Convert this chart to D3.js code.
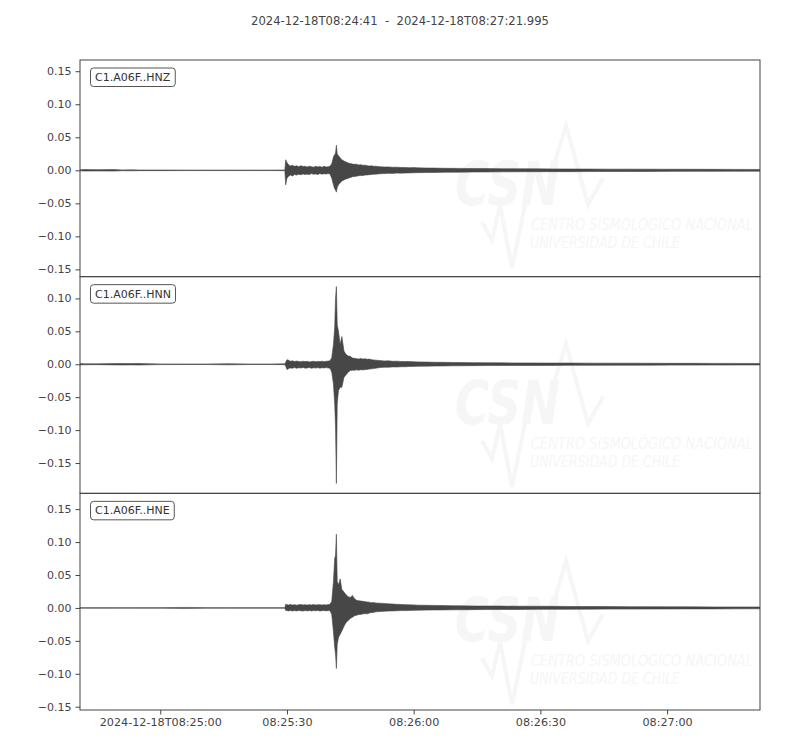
<!DOCTYPE html>
<html><head><meta charset="utf-8">
<script src="https://cdn.jsdelivr.net/npm/d3@7"></script>
<style>
body{margin:0;background:#fff}
svg{display:block}
text{font-family:"DejaVu Sans",sans-serif}
</style>
</head><body>
<svg id="chart" width="800" height="750"></svg>
<script>
// ---------------- data ----------------
const titleText = "2024-12-18T08:24:41  -  2024-12-18T08:27:21.995";
const startTime = "2024-12-18T08:24:41.000";
const endTime = "2024-12-18T08:27:21.995";
const channels = ["C1.A06F..HNZ", "C1.A06F..HNN", "C1.A06F..HNE"];

// seconds after start time (envelope sample times)
const seconds = [0, 1, 4, 8, 10, 12, 14, 19, 25, 30, 35, 40, 45, 48.5,
  48.7, 49.0, 49.4, 49.8, 50.3, 50.8, 51.3, 51.8, 52.3, 52.8, 53.3, 53.8, 54.3, 54.8, 55.3, 55.8, 56.3, 56.8, 57.3, 57.8, 58.3, 58.8, 59.2,
  59.6, 60.0, 60.3, 60.5, 60.7, 60.9, 61.2, 61.6, 62.0, 62.5, 63.0, 63.5, 64.0, 64.5, 65.0, 65.5, 66.0, 66.5, 67.0, 67.5, 68.0, 68.5, 69.0, 69.5, 70.0,
  71, 72, 73, 74, 75, 76, 77, 78, 79, 80, 82, 84, 86, 88, 90, 93, 96, 100, 104, 108, 112, 116, 120, 125, 130, 135, 140, 145, 150, 155, 161];

// envelope (max / min) of each trace
const hnzMax = [0.0008, 0.0012, 0.0010, 0.0012, 0.0006, 0.0008, 0.0005, 0.0005, 0.0004, 0.0004, 0.0004, 0.0004, 0.0004, 0.0005,
  0.016, 0.012, 0.008, 0.0065, 0.0075, 0.006, 0.0068, 0.0055, 0.007, 0.0058, 0.006, 0.005, 0.0062, 0.0055, 0.0048, 0.006, 0.0052, 0.0058, 0.0047, 0.006, 0.005, 0.0055, 0.0062,
  0.010, 0.020, 0.024, 0.026, 0.038, 0.025, 0.022, 0.019, 0.016, 0.014, 0.0125, 0.011, 0.0105, 0.0095, 0.009, 0.0092, 0.0082, 0.0085, 0.0075, 0.0078, 0.007, 0.0065, 0.0068, 0.006, 0.0062,
  0.0055, 0.005, 0.0052, 0.0046, 0.0048, 0.0042, 0.0044, 0.004, 0.0041, 0.0037, 0.0035, 0.0034, 0.0031, 0.003, 0.0029, 0.0027, 0.0026, 0.0024, 0.0023, 0.0022, 0.0021, 0.002, 0.0019, 0.0018, 0.0018, 0.0017, 0.0016, 0.0016, 0.0015, 0.0014, 0.0013];
const hnzMin = [-0.0008, -0.0012, -0.0010, -0.0012, -0.0006, -0.0008, -0.0005, -0.0005, -0.0004, -0.0004, -0.0004, -0.0004, -0.0004, -0.0005,
  -0.022, -0.012, -0.009, -0.007, -0.0085, -0.0065, -0.0072, -0.006, -0.0068, -0.0055, -0.0062, -0.0058, -0.0065, -0.005, -0.006, -0.0055, -0.0062, -0.005, -0.0058, -0.0052, -0.0056, -0.005, -0.0058,
  -0.012, -0.022, -0.028, -0.030, -0.033, -0.026, -0.022, -0.019, -0.016, -0.0145, -0.013, -0.012, -0.011, -0.0098, -0.0092, -0.0088, -0.0082, -0.008, -0.0078, -0.0072, -0.007, -0.0066, -0.0062, -0.006, -0.0058,
  -0.0052, -0.005, -0.0046, -0.0047, -0.0042, -0.0043, -0.004, -0.0039, -0.0037, -0.0035, -0.0034, -0.0032, -0.003, -0.0029, -0.0028, -0.0026, -0.0025, -0.0023, -0.0022, -0.0021, -0.002, -0.002, -0.0019, -0.0018, -0.0017, -0.0017, -0.0016, -0.0015, -0.0015, -0.0014, -0.0013];

const hnnMax = [0.0010, 0.0008, 0.0006, 0.0010, 0.0012, 0.0010, 0.0012, 0.0005, 0.0004, 0.0004, 0.0009, 0.0004, 0.0004, 0.0006,
  0.003, 0.007, 0.006, 0.0045, 0.0052, 0.004, 0.0048, 0.0042, 0.0038, 0.0046, 0.004, 0.0044, 0.0036, 0.0042, 0.0045, 0.0038, 0.0043, 0.004, 0.0046, 0.0039, 0.0044, 0.0048, 0.0052,
  0.010, 0.030, 0.056, 0.100, 0.118, 0.060, 0.050, 0.030, 0.042, 0.020, 0.015, 0.0125, 0.012, 0.0095, 0.009, 0.0085, 0.008, 0.0088, 0.0078, 0.0082, 0.0075, 0.0078, 0.007, 0.0066, 0.0062,
  0.0056, 0.005, 0.0052, 0.0045, 0.0047, 0.0042, 0.004, 0.0042, 0.0038, 0.0036, 0.0033, 0.003, 0.0029, 0.0027, 0.0026, 0.0024, 0.0023, 0.0021, 0.002, 0.0019, 0.0018, 0.0018, 0.0017, 0.0016, 0.0016, 0.0015, 0.0014, 0.0014, 0.0013, 0.0013, 0.0012];
const hnnMin = [-0.0010, -0.0008, -0.0006, -0.0010, -0.0012, -0.0010, -0.0012, -0.0005, -0.0004, -0.0004, -0.0009, -0.0004, -0.0004, -0.0006,
  -0.003, -0.008, -0.0065, -0.0055, -0.006, -0.005, -0.0062, -0.0052, -0.0058, -0.0048, -0.006, -0.0055, -0.005, -0.0062, -0.0054, -0.0058, -0.005, -0.006, -0.0052, -0.0056, -0.005, -0.0058, -0.006,
  -0.012, -0.030, -0.060, -0.095, -0.181, -0.060, -0.040, -0.035, -0.035, -0.020, -0.016, -0.012, -0.0095, -0.009, -0.0092, -0.0085, -0.009, -0.0082, -0.0086, -0.008, -0.0078, -0.0072, -0.007, -0.0065, -0.006,
  -0.005, -0.0045, -0.0046, -0.004, -0.0042, -0.0037, -0.0038, -0.0034, -0.0033, -0.003, -0.0029, -0.0027, -0.0026, -0.0024, -0.0023, -0.0021, -0.002, -0.0019, -0.0018, -0.0018, -0.0017, -0.0016, -0.0016, -0.0015, -0.0014, -0.0014, -0.0013, -0.0013, -0.0012, -0.0012, -0.0011];

const hneMax = [0.0004, 0.0004, 0.0004, 0.0004, 0.0004, 0.0004, 0.0004, 0.0004, 0.0008, 0.0004, 0.0004, 0.0004, 0.0004, 0.0004,
  0.0056, 0.005, 0.0045, 0.0052, 0.0044, 0.005, 0.0042, 0.0048, 0.0052, 0.0045, 0.005, 0.0043, 0.0049, 0.0046, 0.0052, 0.0044, 0.0048, 0.005, 0.0043, 0.0049, 0.0046, 0.0052, 0.0055,
  0.010, 0.040, 0.075, 0.080, 0.112, 0.040, 0.035, 0.044, 0.028, 0.024, 0.020, 0.017, 0.016, 0.019, 0.014, 0.0115, 0.011, 0.0105, 0.010, 0.0095, 0.009, 0.0088, 0.008, 0.0082, 0.0075,
  0.0072, 0.0068, 0.0062, 0.006, 0.0055, 0.0052, 0.005, 0.0047, 0.0046, 0.0042, 0.004, 0.0038, 0.0036, 0.0034, 0.0032, 0.003, 0.0029, 0.0028, 0.0026, 0.0025, 0.0024, 0.0022, 0.0021, 0.002, 0.0019, 0.0018, 0.0017, 0.0016, 0.0015, 0.0015, 0.0014];
const hneMin = [-0.0004, -0.0004, -0.0004, -0.0004, -0.0004, -0.0004, -0.0004, -0.0004, -0.0008, -0.0004, -0.0004, -0.0004, -0.0004, -0.0004,
  -0.004, -0.004, -0.0045, -0.0038, -0.0048, -0.004, -0.0046, -0.0038, -0.0044, -0.0048, -0.004, -0.0045, -0.0038, -0.0046, -0.004, -0.0044, -0.0038, -0.0046, -0.0042, -0.004, -0.0045, -0.0038, -0.0042,
  -0.010, -0.036, -0.060, -0.070, -0.092, -0.055, -0.045, -0.040, -0.035, -0.028, -0.022, -0.019, -0.016, -0.014, -0.012, -0.011, -0.010, -0.0098, -0.009, -0.0088, -0.009, -0.0078, -0.007, -0.0068, -0.006,
  -0.0055, -0.005, -0.0048, -0.0045, -0.0044, -0.004, -0.0041, -0.0038, -0.0037, -0.0035, -0.0033, -0.0031, -0.003, -0.0029, -0.0028, -0.0026, -0.0025, -0.0024, -0.0023, -0.0022, -0.0021, -0.002, -0.0019, -0.0018, -0.0018, -0.0017, -0.0016, -0.0015, -0.0015, -0.0014, -0.0013];

const yTicks = [-0.15, -0.10, -0.05, 0.00, 0.05, 0.10, 0.15];
const yDomains = [[-0.161, 0.167], [-0.196, 0.133], [-0.155, 0.174]];
const xTickTimes = ["2024-12-18T08:25:00.000", "2024-12-18T08:25:30.000", "2024-12-18T08:26:00.000", "2024-12-18T08:26:30.000", "2024-12-18T08:27:00.000"];
const xTickLabels = ["2024-12-18T08:25:00", "08:25:30", "08:26:00", "08:26:30", "08:27:00"];

// ---------------- layout ----------------
const W = 800, H = 750;
const mLeft = 80, mRight = 760, mTop = 60, mBottom = 710;
const panelH = (mBottom - mTop) / channels.length;
const traceColor = "#474747";
const axisColor = "#444";
const textColor = "#444";
const wmColor = "#f6f6f6";

const parse = d3.utcParse("%Y-%m-%dT%H:%M:%S.%L");
const t0 = parse(startTime), t1 = parse(endTime);
const x = d3.scaleUtc().domain([t0, t1]).range([mLeft, mRight]);

const svg = d3.select("#chart");
svg.append("rect").attr("width", W).attr("height", H).attr("fill", "#fff");

svg.append("text").attr("x", 400).attr("y", 25).attr("text-anchor", "middle")
  .attr("font-size", 11.6).attr("fill", textColor).style("white-space", "pre").text(titleText);

const series = [[hnzMax, hnzMin], [hnnMax, hnnMin], [hneMax, hneMin]];

// faint logo watermark, coordinates relative to panel top
function drawWatermark(g, oy) {
  const wm = g.append("g").attr("transform", `translate(0,${oy})`);
  wm.append("text").attr("x", 455).attr("y", 145).attr("font-size", 60)
    .attr("font-weight", "bold").attr("font-style", "italic")
    .attr("font-family", "Liberation Sans, sans-serif")
    .attr("textLength", 105).attr("lengthAdjust", "spacingAndGlyphs")
    .attr("fill", wmColor).text("CSN");
  wm.append("path").attr("d", "M550,118 L566,65 L588,145 L603,118")
    .attr("fill", "none").attr("stroke", wmColor).attr("stroke-width", 4);
  wm.append("path").attr("d", "M482,162 L492,180 L500,145 L512,208 L525,145")
    .attr("fill", "none").attr("stroke", wmColor).attr("stroke-width", 4);
  wm.append("text").attr("x", 531).attr("y", 170).attr("font-size", 15).attr("font-style", "italic")
    .attr("font-family", "Liberation Sans, sans-serif")
    .attr("textLength", 222).attr("lengthAdjust", "spacingAndGlyphs")
    .attr("fill", wmColor).text("CENTRO SISMOLÓGICO NACIONAL");
  wm.append("text").attr("x", 530).attr("y", 188).attr("font-size", 15).attr("font-style", "italic")
    .attr("font-family", "Liberation Sans, sans-serif")
    .attr("textLength", 150).attr("lengthAdjust", "spacingAndGlyphs")
    .attr("fill", wmColor).text("UNIVERSIDAD DE CHILE");
}

channels.forEach((ch, i) => {
  const py = mTop + i * panelH;
  const y = d3.scaleLinear().domain(yDomains[i]).range([py + panelH, py]);
  const g = svg.append("g");

  const clipId = "clip" + i;
  g.append("clipPath").attr("id", clipId).append("rect")
    .attr("x", mLeft).attr("y", py).attr("width", mRight - mLeft).attr("height", panelH);

  drawWatermark(g.append("g"), py + (i === 0 ? 0 : 1 + i));

  const [mx, mn] = series[i];
  const pts = seconds.map((s, k) => ({ t: new Date(t0.getTime() + s * 1000), hi: mx[k], lo: mn[k] }));
  const area = d3.area().x(d => x(d.t)).y0(d => y(d.lo)).y1(d => y(d.hi));
  g.append("path").datum(pts).attr("clip-path", `url(#${clipId})`)
    .attr("d", area).attr("fill", traceColor).attr("stroke", traceColor)
    .attr("stroke-width", 0.6).attr("stroke-linejoin", "miter");

  // y axis
  const [d0, d1] = yDomains[i];
  const ax = g.append("g").attr("transform", `translate(${mLeft},0)`)
    .call(d3.axisLeft(y).tickValues(yTicks.filter(v => v >= d0 && v <= d1))
      .tickFormat(d3.format(".2f")).tickSize(4.5).tickPadding(4));
  ax.select(".domain").remove();
  ax.selectAll(".tick line").attr("stroke", axisColor).attr("stroke-width", 1);
  ax.selectAll(".tick text").attr("fill", textColor).attr("font-size", 11)
    .attr("font-family", "DejaVu Sans, sans-serif");

  // frame
  g.append("rect").attr("x", mLeft).attr("y", py).attr("width", mRight - mLeft).attr("height", panelH)
    .attr("fill", "none").attr("stroke", axisColor).attr("stroke-width", 1);

  // channel label box
  const lab = g.append("g");
  const lt = lab.append("text").attr("x", 95).attr("y", py + 21).attr("font-size", 11)
    .attr("fill", "#333").text(ch);
  const bb = lt.node().getBBox();
  lab.insert("rect", "text").attr("x", bb.x - 4.5).attr("y", py + 8).attr("width", bb.width + 9)
    .attr("height", 18.5).attr("rx", 3).attr("ry", 3)
    .attr("fill", "#fff").attr("stroke", "#555").attr("stroke-width", 1);

  if (i === channels.length - 1) {
    const xa = svg.append("g").attr("transform", `translate(0,${mBottom})`)
      .call(d3.axisBottom(x).tickValues(xTickTimes.map(parse))
        .tickFormat((d, k) => xTickLabels[k]).tickSize(4.5).tickPadding(4));
    xa.select(".domain").remove();
    xa.selectAll(".tick line").attr("stroke", axisColor);
    xa.selectAll(".tick text").attr("fill", textColor).attr("font-size", 11.2)
      .attr("font-family", "DejaVu Sans, sans-serif");
  }
});
</script>
</body></html>
